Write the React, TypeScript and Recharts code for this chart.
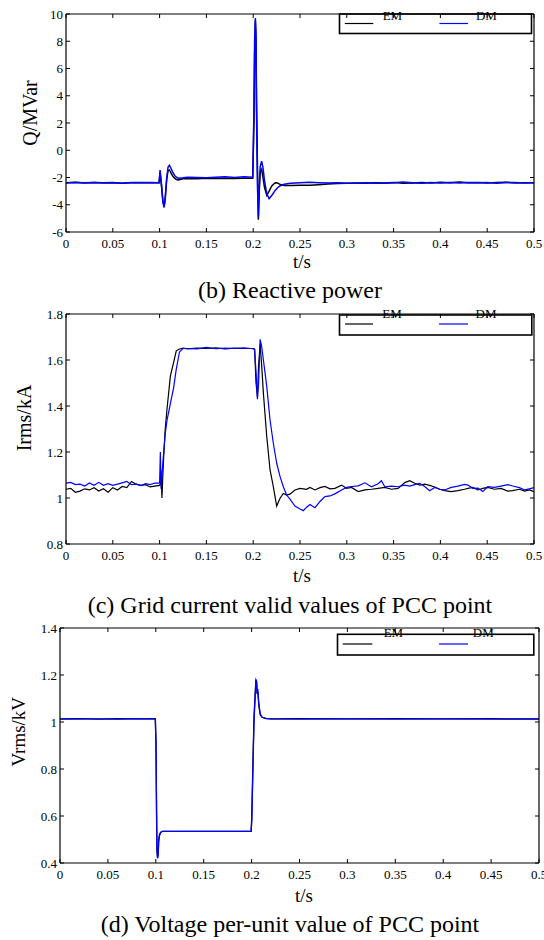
import React from 'react';
import { LineChart, Line, XAxis, YAxis, Legend } from 'recharts';

const xTicks = [0, 0.05, 0.1, 0.15, 0.2, 0.25, 0.3, 0.35, 0.4, 0.45, 0.5];
const qTicks = [-6, -4, -2, 0, 2, 4, 6, 8, 10];
const iTicks = [0.8, 1, 1.2, 1.4, 1.6, 1.8];
const vTicks = [0.4, 0.6, 0.8, 1, 1.2, 1.4];
const seriesNames = ['EM', 'DM'];
const seriesColors = ['#000000', '#0000ff'];

// (b) Reactive power
const qTime = [0, 0.01, 0.02, 0.03, 0.04, 0.05, 0.06, 0.07, 0.08, 0.09, 0.0995,
  0.1005, 0.102, 0.1035, 0.1048, 0.106, 0.1075, 0.109, 0.1105, 0.112, 0.114, 0.116, 0.118, 0.12,
  0.125, 0.13, 0.14, 0.15, 0.16, 0.17, 0.18, 0.19, 0.1995,
  0.2008, 0.2015, 0.2023, 0.203, 0.2035, 0.2045, 0.2055, 0.2065, 0.2075, 0.209, 0.2105, 0.212,
  0.2145, 0.217, 0.22, 0.2235, 0.226, 0.229, 0.233, 0.24, 0.25, 0.26, 0.27, 0.28, 0.29, 0.3,
  0.31, 0.32, 0.33, 0.34, 0.35, 0.36, 0.37, 0.38, 0.39, 0.4, 0.41, 0.42, 0.43, 0.44, 0.45, 0.46, 0.47, 0.48, 0.49, 0.5];
const qEM = [-2.38, -2.35, -2.4, -2.37, -2.38, -2.36, -2.42, -2.39, -2.37, -2.38, -2.38,
  -1.6, -2.6, -3.7, -4.1, -3.5, -2.2, -1.5, -1.45, -1.65, -1.9, -2.05, -2.15, -2.18,
  -2.1, -2.08, -2.1, -2.05, -2.08, -2.06, -2.07, -2.06, -2.05,
  2.0, 7.0, 9.5, 8.0, 4.0, -1.0, -5.1, -3.0, -1.6, -1.4, -2.0, -2.7,
  -3.3, -3.0, -2.6, -2.38, -2.4, -2.52, -2.58, -2.58, -2.56, -2.57, -2.53, -2.48, -2.44, -2.42,
  -2.4, -2.43, -2.38, -2.4, -2.36, -2.42, -2.41, -2.37, -2.4, -2.35, -2.38, -2.33, -2.38, -2.36, -2.4, -2.37, -2.35, -2.4, -2.38, -2.38];
const qDM = [-2.4, -2.37, -2.38, -2.36, -2.41, -2.38, -2.43, -2.37, -2.39, -2.37, -2.38,
  -1.45, -2.5, -3.8, -4.2, -3.6, -2.1, -1.25, -1.1, -1.3, -1.6, -1.85, -1.98, -2.05,
  -2.02, -1.98, -2.0, -2.02, -1.98, -1.95, -2.0, -1.95, -1.98,
  3.0, 8.0, 9.7, 8.5, 3.0, -2.5, -4.9, -2.5, -1.2, -0.8, -1.3, -2.2,
  -3.2, -3.55, -3.3, -2.95, -2.75, -2.6, -2.5, -2.42, -2.38, -2.35, -2.38, -2.4, -2.38, -2.42,
  -2.42, -2.38, -2.4, -2.43, -2.38, -2.33, -2.38, -2.42, -2.36, -2.41, -2.37, -2.4, -2.36, -2.39, -2.36, -2.42, -2.37, -2.36, -2.41, -2.38];

// (c) Grid current
const iTime = [0, 0.005, 0.01, 0.015, 0.02, 0.025, 0.03, 0.035, 0.04, 0.045, 0.05, 0.055, 0.06, 0.065, 0.07, 0.075, 0.08, 0.085, 0.09, 0.095, 0.1,
  0.1008, 0.1015, 0.1025, 0.104, 0.106, 0.108, 0.1115, 0.115, 0.1178, 0.1213, 0.125,
  0.13, 0.14, 0.15, 0.16, 0.17, 0.18, 0.19, 0.2,
  0.2015, 0.203, 0.2045, 0.2058, 0.2074, 0.209, 0.2109, 0.2145, 0.218, 0.2215, 0.2251, 0.2287, 0.2322, 0.2357, 0.2393,
  0.2446, 0.25, 0.2535, 0.257, 0.2606, 0.266, 0.2714, 0.2766, 0.282, 0.2873, 0.2944, 0.2997, 0.3051, 0.3122, 0.3193,
  0.3264, 0.3335, 0.337, 0.3406, 0.3477, 0.3548, 0.3619, 0.3672, 0.3726, 0.3779, 0.3832, 0.3885, 0.3939, 0.3992,
  0.4045, 0.4116, 0.4187, 0.4258, 0.4294, 0.4347, 0.44, 0.4453, 0.4506, 0.4577, 0.4648, 0.4719, 0.4773, 0.4844, 0.49, 0.495, 0.5];
const iEM = [1.038, 1.042, 1.025, 1.03, 1.04, 1.035, 1.045, 1.03, 1.04, 1.025, 1.045, 1.035, 1.05, 1.045, 1.072, 1.06, 1.055, 1.058, 1.048, 1.052, 1.055,
  1.06, 1.12, 1.0, 1.15, 1.3, 1.39, 1.53, 1.59, 1.64, 1.648, 1.652,
  1.648, 1.652, 1.65, 1.653, 1.648, 1.652, 1.65, 1.65,
  1.648, 1.5, 1.44, 1.58, 1.668, 1.58, 1.455, 1.266, 1.122, 1.049, 0.965, 0.999, 1.02, 1.013, 1.017,
  1.035, 1.042, 1.04, 1.038, 1.046, 1.035, 1.045, 1.05, 1.04, 1.042, 1.056, 1.042, 1.046, 1.028, 1.035,
  1.038, 1.042, 1.044, 1.046, 1.038, 1.042, 1.067, 1.075, 1.064, 1.056, 1.06, 1.055, 1.048, 1.038,
  1.032, 1.028, 1.032, 1.038, 1.042, 1.046, 1.035, 1.042, 1.046, 1.038, 1.042, 1.03, 1.032, 1.038, 1.03, 1.035, 1.028];
const iDM = [1.065, 1.068, 1.058, 1.06, 1.052, 1.065, 1.055, 1.068, 1.055, 1.062, 1.055, 1.06, 1.066, 1.072, 1.058, 1.06, 1.054, 1.062, 1.058, 1.065, 1.065,
  1.2, 1.04, 1.1, 1.18, 1.28, 1.34, 1.41, 1.48, 1.56, 1.636, 1.65,
  1.65, 1.648, 1.655, 1.649, 1.652, 1.65, 1.653, 1.649,
  1.645, 1.55, 1.43, 1.5, 1.69, 1.66, 1.6, 1.484, 1.339, 1.238, 1.151, 1.093, 1.049, 1.013, 0.995,
  0.965, 0.952, 0.945, 0.96, 0.972, 0.958, 0.985, 1.006, 1.009, 1.018, 1.035, 1.046, 1.05, 1.053, 1.066,
  1.049, 1.062, 1.075, 1.049, 1.052, 1.049, 1.056, 1.052, 1.058, 1.064, 1.05, 1.032, 1.046, 1.038,
  1.035, 1.046, 1.052, 1.059, 1.056, 1.042, 1.043, 1.028, 1.049, 1.046, 1.052, 1.058, 1.052, 1.045, 1.035, 1.04, 1.045];

// (d) Voltage
const vTime = [0, 0.02, 0.04, 0.06, 0.08, 0.0995,
  0.1002, 0.1008, 0.1012, 0.1018, 0.1025, 0.103, 0.1038, 0.105, 0.107, 0.15, 0.1995,
  0.2002, 0.2015, 0.2025, 0.2035, 0.2045, 0.2052, 0.2058, 0.2065, 0.2075, 0.209, 0.211, 0.215, 0.22,
  0.25, 0.3, 0.35, 0.4, 0.45, 0.5];
const vEM = [1.013, 1.014, 1.012, 1.014, 1.013, 1.014,
  0.9, 0.6, 0.45, 0.425, 0.44, 0.5, 0.52, 0.53, 0.535, 0.535, 0.535,
  0.6, 0.85, 1.02, 1.1, 1.18, 1.17, 1.12, 1.13, 1.07, 1.03, 1.02, 1.014, 1.013,
  1.014, 1.013, 1.014, 1.013, 1.014, 1.013];
const vDM = [1.012, 1.013, 1.013, 1.012, 1.014, 1.013,
  0.92, 0.62, 0.47, 0.42, 0.43, 0.49, 0.515, 0.53, 0.535, 0.535, 0.535,
  0.58, 0.82, 1.0, 1.09, 1.18, 1.175, 1.12, 1.14, 1.08, 1.035, 1.02, 1.015, 1.013,
  1.012, 1.013, 1.012, 1.013, 1.012, 1.012];

const toRows = (time: number[], vals: number[]) => time.map((t, i) => ({ t, v: vals[i] }));

const FONT = "'Liberation Serif', 'Times New Roman', Times, serif";

const XTick = (props: any) => (
  <text x={props.x} y={props.y} dy="0.71em" textAnchor="middle" fontSize={13} fontFamily={FONT} fill="#000">
    {String(props.payload.value)}
  </text>
);
const YTick = (props: any) => (
  <text x={props.x} y={props.y} dy="0.355em" textAnchor="end" fontSize={13} fontFamily={FONT} fill="#000">
    {String(props.payload.value)}
  </text>
);

type LegendGeom = {
  x1: number; x2: number; y1: number; y2: number; lineY: number;
  lines: [number, number][]; textX: number[]; textY: number;
};

type PanelProps = {
  pageTop: number; height: number;
  margin: { top: number; right: number; bottom: number; left: number };
  rightWidth: number;
  domain: [number, number]; yTicks: number[];
  time: number[]; em: number[]; dm: number[];
  yLabel: string; ylx: number; yly: number; ylSize: number;
  tsX: number; tsY: number; caption: string; capY: number;
  legend: LegendGeom; strokeW: number;
};

function Panel(p: PanelProps) {
  const emRows = toRows(p.time, p.em);
  const dmRows = toRows(p.time, p.dm);
  const lg = p.legend;
  return (
    <div style={{ position: 'absolute', left: 0, top: p.pageTop, width: 544, height: p.height, fontFamily: FONT }}>
      <LineChart width={544} height={p.height} margin={p.margin} style={{ fontFamily: FONT }}>
        <XAxis
          dataKey="t" type="number" domain={[0, 0.5]} ticks={xTicks} allowDataOverflow
          height={30} tickSize={-4} tickMargin={11} tick={XTick} interval={0}
          axisLine={{ stroke: '#000', strokeWidth: 1.2 }} tickLine={{ stroke: '#000' }}
          label={() => (
            <g fontFamily={FONT} fill="#000">
              <text x={p.tsX} y={p.tsY} textAnchor="middle" fontSize={19} fontFamily={FONT}>t/s</text>
              <text x={290} y={p.capY} textAnchor="middle" fontSize={24} fontFamily={FONT}>{p.caption}</text>
            </g>
          )}
        />
        <XAxis
          xAxisId="top" orientation="top" dataKey="t" type="number" domain={[0, 0.5]} ticks={xTicks}
          allowDataOverflow height={10} tickSize={-4} tickFormatter={() => ''} interval={0}
          axisLine={{ stroke: '#000', strokeWidth: 1.2 }} tickLine={{ stroke: '#000' }}
        />
        <YAxis
          type="number" domain={p.domain} ticks={p.yTicks} allowDataOverflow width={50}
          tickSize={-4} tickMargin={7} tick={YTick} interval={0}
          axisLine={{ stroke: '#000', strokeWidth: 1.2 }} tickLine={{ stroke: '#000' }}
          label={() => (
            <text
              transform={`translate(${p.ylx},${p.yly}) rotate(-90)`}
              textAnchor="middle" dy="0.33em" fontSize={p.ylSize} fontFamily={FONT} fill="#000"
            >{p.yLabel}</text>
          )}
        />
        <YAxis
          yAxisId="right" orientation="right" type="number" domain={p.domain} ticks={p.yTicks}
          allowDataOverflow width={p.rightWidth} tickSize={-4} tickFormatter={() => ''} interval={0}
          axisLine={{ stroke: '#000', strokeWidth: 1.2 }} tickLine={{ stroke: '#000' }}
        />
        <Legend
          layout="vertical" align="center" verticalAlign="middle"
          wrapperStyle={{ position: 'absolute', left: 0, top: 0, width: 544, height: 60, pointerEvents: 'none' }}
          content={() => (
            <svg width={544} height={60} style={{ display: 'block', overflow: 'visible' }}>
              {seriesNames.map((n, i) => (
                <g key={n}>
                  <text x={lg.textX[i]} y={lg.textY} textAnchor="middle" fontSize={13} fontFamily={FONT} fill="#000">{n}</text>
                  <line x1={lg.lines[i][0]} x2={lg.lines[i][1]} y1={lg.lineY} y2={lg.lineY} stroke={seriesColors[i]} strokeWidth={1.2} />
                </g>
              ))}
              <rect x={lg.x1} y={lg.y1} width={lg.x2 - lg.x1} height={lg.y2 - lg.y1} fill="none" stroke="#000" strokeWidth={1.6} />
            </svg>
          )}
        />
        <Line data={emRows} dataKey="v" name={seriesNames[0]} stroke={seriesColors[0]} strokeWidth={p.strokeW}
          dot={false} isAnimationActive={false} type="linear" />
        <Line data={dmRows} dataKey="v" name={seriesNames[1]} stroke={seriesColors[1]} strokeWidth={p.strokeW}
          dot={false} isAnimationActive={false} type="linear" />
      </LineChart>
    </div>
  );
}

export default function App() {
  return (
    <div style={{ position: 'absolute', left: 0, top: 0, width: 544, height: 940, background: '#fff', fontFamily: FONT }}>
      <Panel
        pageTop={0} height={320} margin={{ top: 4, right: 5, bottom: 58, left: 16 }} rightWidth={5}
        domain={[-6, 10]} yTicks={qTicks} time={qTime} em={qEM} dm={qDM}
        yLabel="Q/MVar" ylx={30.5} yly={113} ylSize={20} tsX={302} tsY={268}
        caption="(b) Reactive power" capY={298} strokeW={1.5}
        legend={{ x1: 339.5, x2: 531.5, y1: 14, y2: 33.5, lineY: 23.5, lines: [[344.8, 373.3], [439.4, 468]], textX: [392.4, 486.4], textY: 20 }}
      />
      <Panel
        pageTop={300} height={320} margin={{ top: 4, right: 5, bottom: 46, left: 16 }} rightWidth={5}
        domain={[0.8, 1.8]} yTicks={iTicks} time={iTime} em={iEM} dm={iDM}
        yLabel="Irms/kA" ylx={24.4} yly={118} ylSize={20} tsX={302} tsY={282}
        caption="(c) Grid current valid values of PCC point" capY={313} strokeW={1.2}
        legend={{ x1: 339.5, x2: 531.8, y1: 15, y2: 35, lineY: 24, lines: [[345, 373], [439, 468]], textX: [392, 486], textY: 18 }}
      />
      <Panel
        pageTop={614} height={326} margin={{ top: 4, right: 0, bottom: 47, left: 10 }} rightWidth={5}
        domain={[0.4, 1.4]} yTicks={vTicks} time={vTime} em={vEM} dm={vDM}
        yLabel="Vrms/kV" ylx={18.7} yly={117.7} ylSize={19} tsX={304} tsY={288}
        caption="(d) Voltage per-unit value of PCC point" capY={318} strokeW={1.3}
        legend={{ x1: 337.5, x2: 533.8, y1: 20.3, y2: 41, lineY: 30, lines: [[342.7, 372.3], [439, 468]], textX: [393.4, 483.3], textY: 23 }}
      />
    </div>
  );
}
